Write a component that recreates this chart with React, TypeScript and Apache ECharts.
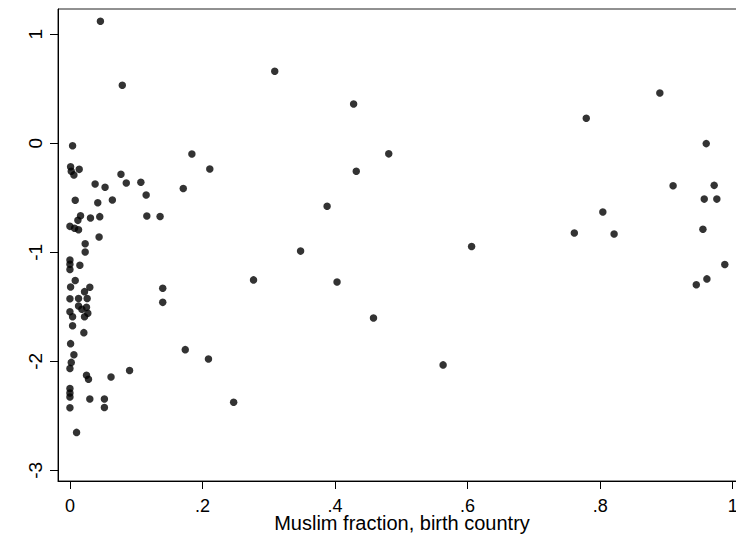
import React, { useEffect, useRef } from 'react';
import * as echarts from 'echarts';

const muslimFraction = [
  0.046, 0.079, 0.004, 0.001, 0.002, 0.006, 0.014, 0.077, 0.184, 0.211,
  0.038, 0.053, 0.085, 0.107, 0.115, 0.171, 0.008, 0.042, 0.064, 0.116,
  0.136, 0.016, 0.012, 0.031, 0.045, 0.000, 0.007, 0.013, 0.044, 0.023,
  0.023, 0.000, 0.000, 0.000, 0.015, 0.008, 0.001, 0.030, 0.022, 0.000,
  0.013, 0.026, 0.013, 0.018, 0.025, 0.027, 0.000, 0.004, 0.022, 0.004,
  0.021, 0.001, 0.140, 0.140, 0.174, 0.006, 0.002, 0.000, 0.209, 0.090,
  0.062, 0.025, 0.028, 0.000, 0.000, 0.000, 0.030, 0.052, 0.052, 0.000,
  0.247, 0.010, 0.309, 0.428, 0.481, 0.432, 0.388, 0.348, 0.606, 0.277,
  0.403, 0.458, 0.563, 0.890, 0.779, 0.960, 0.910, 0.972, 0.957, 0.976,
  0.804, 0.761, 0.821, 0.955, 0.988, 0.961, 0.945,
];

const outcome = [
  1.119, 0.532, -0.022, -0.215, -0.257, -0.290, -0.239, -0.284, -0.098, -0.236,
  -0.373, -0.404, -0.364, -0.358, -0.474, -0.414, -0.523, -0.545, -0.520, -0.667,
  -0.672, -0.664, -0.707, -0.685, -0.673, -0.762, -0.780, -0.793, -0.860, -0.921,
  -0.997, -1.070, -1.110, -1.158, -1.119, -1.258, -1.318, -1.321, -1.361, -1.426,
  -1.424, -1.424, -1.493, -1.523, -1.505, -1.560, -1.545, -1.591, -1.591, -1.673,
  -1.737, -1.838, -1.330, -1.459, -1.893, -1.940, -2.010, -2.065, -1.979, -2.085,
  -2.144, -2.129, -2.165, -2.250, -2.290, -2.327, -2.346, -2.346, -2.423, -2.426,
  -2.375, -2.652, 0.661, 0.361, -0.097, -0.257, -0.578, -0.989, -0.946, -1.253,
  -1.273, -1.602, -2.033, 0.462, 0.229, -0.003, -0.389, -0.386, -0.512, -0.512,
  -0.631, -0.823, -0.832, -0.788, -1.112, -1.244, -1.297,
];

const xTickValues = [0, 0.2, 0.4, 0.6, 0.8, 1];
const xTickLabels = ['0', '.2', '.4', '.6', '.8', '1'];
const yTickValues = [-3, -2, -1, 0, 1];
const yTickLabels = ['-3', '-2', '-1', '0', '1'];
const xAxisTitle = 'Muslim fraction, birth country';

const FONT = '"Liberation Sans", Arial, Helvetica, sans-serif';

function labelFor(values: number[], labels: string[], v: number): string {
  for (let i = 0; i < values.length; i++) {
    if (Math.abs(values[i] - v) < 1e-6) return labels[i];
  }
  return '';
}

export default function App() {
  const ref = useRef<HTMLDivElement>(null);

  useEffect(() => {
    if (!ref.current) return;
    const chart = echarts.init(ref.current, null, { renderer: 'svg' });
    const points = muslimFraction.map((x, i) => [x, outcome[i]]);
    chart.setOption({
      animation: false,
      backgroundColor: '#ffffff',
      grid: {
        left: 58,
        right: -10,
        top: 9,
        bottom: 55,
        show: true,
        borderColor: '#222',
        borderWidth: 1,
        backgroundColor: 'transparent',
        containLabel: false,
        outerBoundsMode: 'none',
      },
      xAxis: {
        type: 'value',
        min: -0.018,
        max: 1.02,
        splitLine: { show: false },
        axisLine: { show: true, onZero: false, lineStyle: { color: '#000', width: 1 } },
        axisTick: {
          show: true,
          inside: false,
          length: 8,
          customValues: xTickValues,
          lineStyle: { color: '#000', width: 1 },
        },
        axisLabel: {
          show: true,
          customValues: xTickValues,
          margin: 17,
          fontFamily: FONT,
          fontSize: 18,
          lineHeight: 16,
          color: '#000',
          formatter: (v: number) => labelFor(xTickValues, xTickLabels, v),
        },
        name: xAxisTitle,
        nameLocation: 'middle',
        nameGap: 33,
        nameMoveOverlap: false,
        nameTextStyle: { fontFamily: FONT, fontSize: 20, lineHeight: 18, color: '#000' },
      },
      yAxis: {
        type: 'value',
        min: -3.098,
        max: 1.232,
        splitLine: { show: false },
        axisLine: { show: true, onZero: false, lineStyle: { color: '#000', width: 1 } },
        axisTick: {
          show: true,
          inside: false,
          length: 8,
          customValues: yTickValues,
          lineStyle: { color: '#000', width: 1 },
        },
        axisLabel: {
          show: true,
          customValues: yTickValues,
          rotate: 90,
          margin: 13,
          fontFamily: FONT,
          fontSize: 19,
          color: '#000',
          formatter: (v: number) => labelFor(yTickValues, yTickLabels, v),
        },
      },
      series: [
        {
          type: 'scatter',
          data: points,
          symbol: 'circle',
          symbolSize: 7.5,
          itemStyle: { color: '#000', borderWidth: 0 },
          clip: false,
        },
      ],
    });
    return () => {
      chart.dispose();
    };
  }, []);

  return (
    <div
      ref={ref}
      style={{ position: 'fixed', left: 0, top: 0, width: 736, height: 536, background: '#fff' }}
    />
  );
}
